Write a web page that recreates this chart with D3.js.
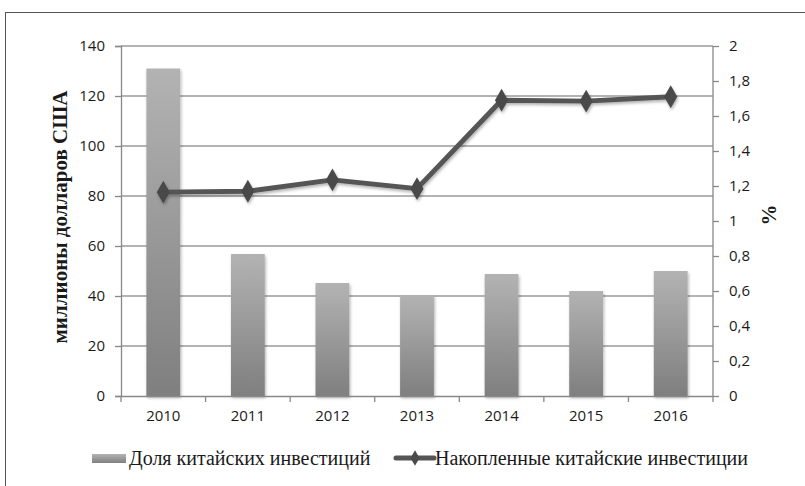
<!DOCTYPE html>
<html>
<head>
<meta charset="utf-8">
<script src="https://cdn.jsdelivr.net/npm/d3@7"></script>
<style>
  body { margin: 0; background: #fff; }
  .tick text { font-family: "Open Sans", "Liberation Sans", sans-serif; font-size: 15px; fill: #1a1a1a; }
</style>
</head>
<body>
<div id="chart"></div>
<script>
  var years = ["2010", "2011", "2012", "2013", "2014", "2015", "2016"];
  var barValues = [131, 56.8, 45.2, 40.4, 48.8, 42, 50];          // left axis
  var lineValues = [1.165, 1.17, 1.235, 1.185, 1.69, 1.685, 1.71]; // right axis
  var leftTicks = [0, 20, 40, 60, 80, 100, 120, 140];
  var rightTicks = [0, 0.2, 0.4, 0.6, 0.8, 1, 1.2, 1.4, 1.6, 1.8, 2];
  var barName = "Доля китайских инвестиций";
  var lineName = "Накопленные китайские инвестиции";
  var leftTitle = "миллионы долларов США";
  var rightTitle = "%";

  var W = 805, H = 486;
  var m = { left: 121, right: 92, top: 46, bottom: 90 };
  var iw = W - m.left - m.right, ih = H - m.top - m.bottom;
  var serif = "'Liberation Serif', 'Times New Roman', serif";

  var svg = d3.select("#chart").append("svg").attr("width", W).attr("height", H);
  var defs = svg.append("defs");

  var grad = defs.append("linearGradient").attr("id", "barGrad")
    .attr("x1", 0).attr("y1", 0).attr("x2", 0).attr("y2", 1);
  grad.append("stop").attr("offset", "0%").attr("stop-color", "#b3b3b3");
  grad.append("stop").attr("offset", "100%").attr("stop-color", "#7f7f7f");

  var shadow = defs.append("filter").attr("id", "shadow")
    .attr("x", "-30%").attr("y", "-30%").attr("width", "160%").attr("height", "160%");
  shadow.append("feDropShadow").attr("dx", 1).attr("dy", 2).attr("stdDeviation", 1.5)
    .attr("flood-color", "#000").attr("flood-opacity", 0.3);

  // frame
  svg.append("rect").attr("x", 5.5).attr("y", 12.5).attr("width", 820).attr("height", 500)
    .attr("fill", "none").attr("stroke", "#555").attr("stroke-width", 1);

  var g = svg.append("g").attr("transform", "translate(" + m.left + "," + m.top + ")");

  var x = d3.scaleBand().domain(years).range([0, iw]).paddingInner(0.6).paddingOuter(0.3);
  var xb = d3.scaleBand().domain(years).range([0, iw]);
  var yL = d3.scaleLinear().domain([0, 140]).range([ih, 0]);
  var yR = d3.scaleLinear().domain([0, 2]).range([ih, 0]);

  // gridlines
  g.append("g").selectAll("line").data(leftTicks.slice(1)).join("line")
    .attr("x1", 0).attr("x2", iw)
    .attr("y1", function (d) { return yL(d); }).attr("y2", function (d) { return yL(d); })
    .attr("stroke", "#9a9a9a").attr("stroke-width", 1.3);

  // left axis
  var axL = g.append("g").call(d3.axisLeft(yL).tickValues(leftTicks).tickSize(6).tickPadding(10));
  axL.selectAll("path, line").attr("stroke", "#888").attr("stroke-width", 1.3);

  // right axis
  var axR = g.append("g").attr("transform", "translate(" + iw + ",0)")
    .call(d3.axisRight(yR).tickValues(rightTicks).tickSize(6).tickPadding(10)
      .tickFormat(function (d) { return String(+d.toFixed(1)).replace(".", ","); }));
  axR.selectAll("path, line").attr("stroke", "#888").attr("stroke-width", 1.3);
  axR.select(".domain").attr("d", "M0,0V" + ih);

  // bars
  g.append("g").selectAll("rect").data(years).join("rect")
    .attr("x", function (d) { return x(d); })
    .attr("width", x.bandwidth())
    .attr("y", function (d, i) { return yL(barValues[i]); })
    .attr("height", function (d, i) { return ih - yL(barValues[i]); })
    .attr("fill", "url(#barGrad)")
    .attr("filter", "url(#shadow)");

  // x axis
  var axX = g.append("g").attr("transform", "translate(0," + ih + ")")
    .call(d3.axisBottom(xb).tickSize(0).tickPadding(14));
  axX.select(".domain").attr("stroke", "#888").attr("stroke-width", 1.3);
  axX.append("g").selectAll("line").data(d3.range(years.length + 1)).join("line")
    .attr("x1", function (d) { return d * xb.step(); }).attr("x2", function (d) { return d * xb.step(); })
    .attr("y1", 0).attr("y2", 6).attr("stroke", "#888").attr("stroke-width", 1.3);

  // line
  var cx = function (d, i) { return xb(years[i]) + xb.bandwidth() / 2; };
  var lineGen = d3.line().x(function (d, i) { return cx(d, i); }).y(function (d) { return yR(d); });
  var lg = g.append("g").attr("filter", "url(#shadow)");
  lg.append("path").datum(lineValues).attr("d", lineGen)
    .attr("fill", "none").attr("stroke", "#555").attr("stroke-width", 5).attr("stroke-linejoin", "round");
  var diamond = d3.symbol().type(d3.symbolDiamond).size(150);
  lg.selectAll(".mk").data(lineValues).join("path").attr("class", "mk")
    .attr("d", diamond)
    .attr("transform", function (d, i) { return "translate(" + cx(d, i) + "," + yR(d) + ")"; })
    .attr("fill", "#4a4a4a");

  // axis titles
  svg.append("text")
    .attr("transform", "translate(67," + (m.top + ih / 2 - 4) + ") rotate(-90)")
    .attr("text-anchor", "middle")
    .style("font-family", serif)
    .style("font-weight", "bold").style("font-size", "21px").attr("fill", "#1a1a1a")
    .text(leftTitle);
  svg.append("text")
    .attr("transform", "translate(776," + (m.top + ih / 2 - 6) + ") rotate(-90)")
    .attr("text-anchor", "middle")
    .style("font-family", serif)
    .style("font-weight", "bold").style("font-size", "21px").attr("fill", "#1a1a1a")
    .text(rightTitle);

  // legend
  var leg = svg.append("g").attr("transform", "translate(0,458)");
  leg.append("rect").attr("x", 92).attr("y", -4).attr("width", 34).attr("height", 9)
    .attr("fill", "url(#barGrad)");
  leg.append("text").attr("x", 129).attr("y", 7)
    .style("font-family", serif).style("font-size", "20px")
    .attr("fill", "#1a1a1a").text(barName);
  leg.append("line").attr("x1", 396).attr("x2", 434).attr("y1", 0).attr("y2", 0)
    .attr("stroke", "#555").attr("stroke-width", 5).attr("stroke-linecap", "round");
  leg.append("path").attr("d", d3.symbol().type(d3.symbolDiamond).size(70))
    .attr("transform", "translate(415,0)").attr("fill", "#4a4a4a");
  leg.append("text").attr("x", 435).attr("y", 7)
    .style("font-family", serif).style("font-size", "20px")
    .attr("fill", "#1a1a1a").text(lineName);
</script>
</body>
</html>
